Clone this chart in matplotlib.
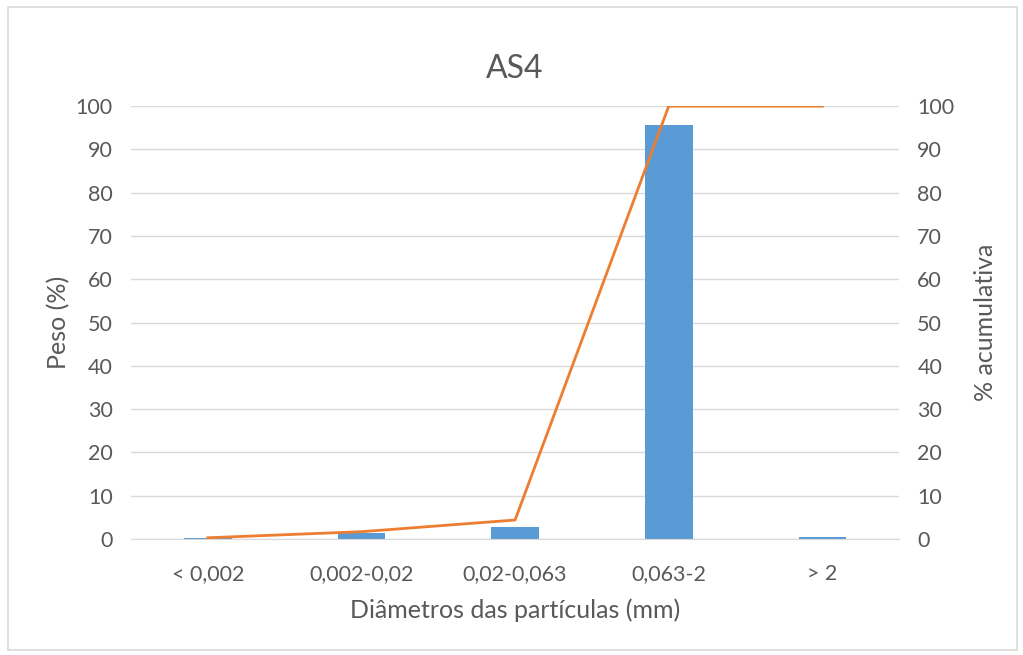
import matplotlib.pyplot as plt
from matplotlib.patches import Rectangle

plt.rcParams['font.family'] = ['Lato', 'DejaVu Sans']

# data
categorias = ['< 0,002', '0,002-0,02', '0,02-0,063', '0,063-2', '> 2']
peso = [0.3, 1.4, 2.7, 95.6, 0.4]
acumulado = [0.3, 1.7, 4.4, 100, 100]
ticks_y = [0, 10, 20, 30, 40, 50, 60, 70, 80, 90, 100]

cinza = '#595959'

fig = plt.figure(figsize=(10.23, 6.55), dpi=100)
fig.patches.append(Rectangle((0.008, 0.008), 0.986, 0.982, transform=fig.transFigure,
                             fill=False, edgecolor='#D9D9D9', linewidth=1.2))

ax = fig.add_axes([0.128, 0.177, 0.751, 0.661])
x = list(range(len(categorias)))
ax.bar(x, peso, width=0.31, color='#5B9BD5', zorder=2)
ax.set_xlim(-0.5, 4.5)
ax.set_ylim(0, 100)
ax.set_yticks(ticks_y)
ax.set_xticks(x)
ax.set_xticklabels(categorias)
ax.grid(axis='y', color='#D9D9D9', linewidth=1, zorder=0)
for s in ['top', 'left', 'right']:
    ax.spines[s].set_visible(False)
ax.spines['bottom'].set_color('#D9D9D9')
ax.tick_params(axis='y', length=0, labelsize=15.5, colors=cinza, pad=13)
ax.tick_params(axis='x', length=0, labelsize=15.5, colors=cinza, pad=18)
ax.set_xlabel('Diâmetros das partículas (mm)', fontsize=18, color=cinza, labelpad=10)
ax.set_ylabel('Peso (%)', fontsize=18, color=cinza, labelpad=4)
ax.set_title('AS4', fontsize=23, color=cinza, pad=20)

ax2 = ax.twinx()
ax2.plot(x, acumulado, color='#ED7D31', linewidth=2, zorder=3)
ax2.set_ylim(0, 100)
ax2.set_yticks(ticks_y)
for s in ax2.spines.values():
    s.set_visible(False)
ax2.tick_params(length=0, labelsize=15.5, colors=cinza, pad=13)
ax2.set_ylabel('% acumulativa', fontsize=18, color=cinza, labelpad=14)

fig.savefig('out.png', dpi=100)
